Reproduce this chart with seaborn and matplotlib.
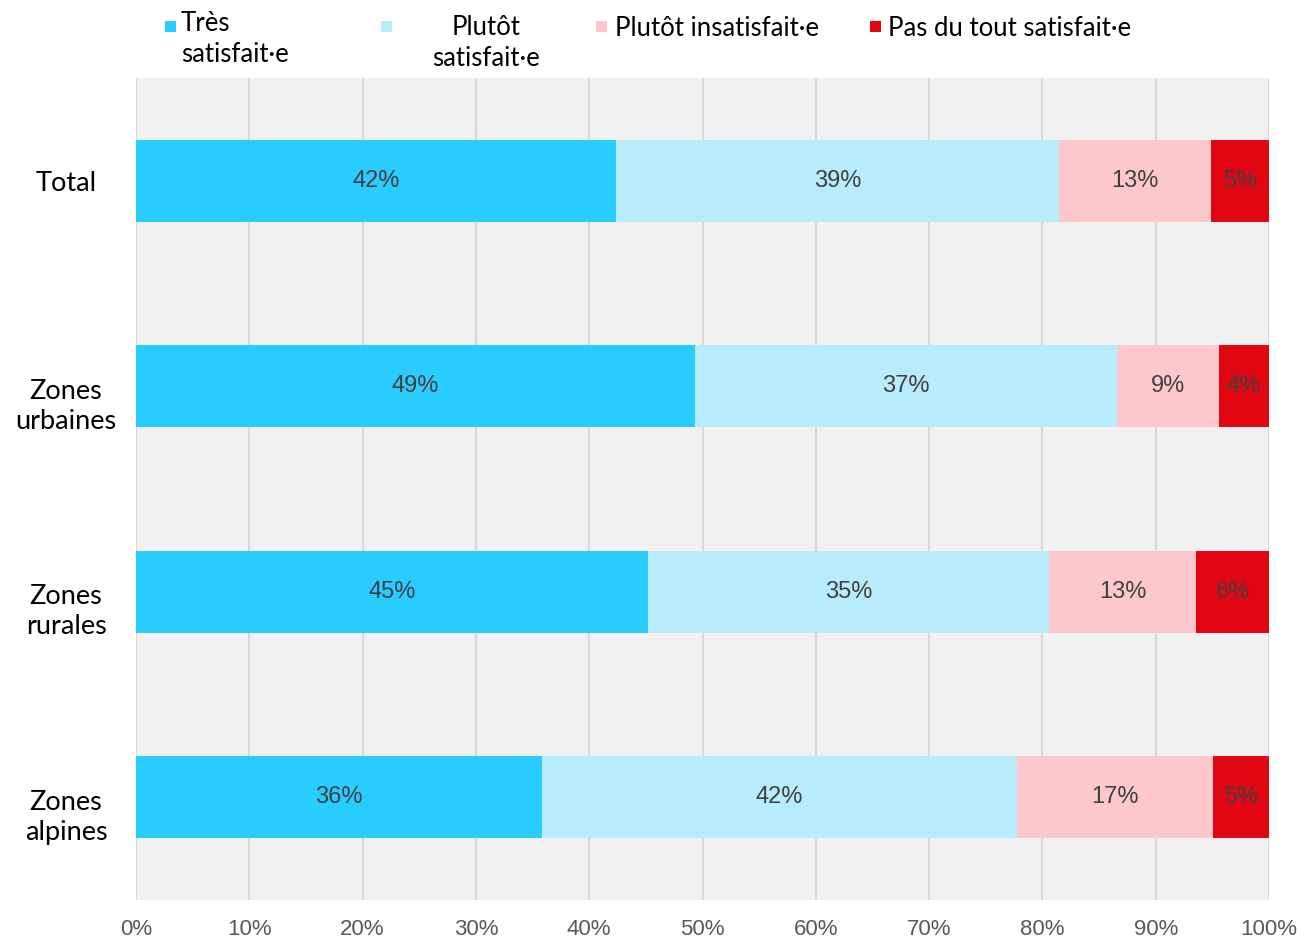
import numpy as np
import pandas as pd
import matplotlib
matplotlib.use("Agg")
import matplotlib.pyplot as plt
import matplotlib.transforms as mtransforms
import seaborn as sns
from matplotlib.patches import Rectangle
from matplotlib.ticker import FuncFormatter

categories = ["Total", "Zones\nurbaines", "Zones\nrurales", "Zones\nalpines"]
tres_satisfait = [42.4, 49.3, 45.2, 35.8]
plutot_satisfait = [39.1, 37.3, 35.4, 42.0]
plutot_insatisfait = [13.4, 9.0, 13.0, 17.3]
pas_satisfait = [5.1, 4.4, 6.4, 4.9]

series_names = ["Très\nsatisfait·e", "Plutôt\nsatisfait·e",
                "Plutôt insatisfait·e", "Pas du tout satisfait·e"]
colors = ["#29CCFF", "#B8ECFD", "#FCC8CC", "#E20613"]
x_ticks = [0, 10, 20, 30, 40, 50, 60, 70, 80, 90, 100]

W, H = 1304, 939
sns.set_theme(style="white")
plt.rcParams["font.family"] = ["Lato", "DejaVu Sans"]

fig = plt.figure(figsize=(W / 100, H / 100), dpi=100)
ax = fig.add_axes([136 / W, 1 - 900 / H, 1133 / W, 822 / H])
ax.set_facecolor("#F1F1F1")

df = pd.DataFrame({"cat": categories, "v0": tres_satisfait, "v1": plutot_satisfait,
                   "v2": plutot_insatisfait, "v3": pas_satisfait})
left = np.zeros(len(categories))
for i, col in enumerate(["v0", "v1", "v2", "v3"]):
    sns.barplot(data=df, x=col, y="cat", orient="h", color=colors[i],
                width=0.4, left=left, saturation=1, linewidth=0,
                edgecolor="none", ax=ax, zorder=3)
    left = left + df[col].values
    ax.bar_label(ax.containers[-1], labels=[f"{v:.0f}%" for v in df[col]],
                 label_type="center", color="#404040", fontsize=17,
                 family="Liberation Sans", zorder=4)

ax.set_xlim(0, 100)
ax.set_xticks(x_ticks)
ax.xaxis.set_major_formatter(FuncFormatter(lambda v, p: f"{v:.0f}%"))
ax.grid(axis="x", color="#D9D9D9", linewidth=1.5, zorder=0)
ax.set_axisbelow(True)
for s in ax.spines.values():
    s.set_visible(False)
ax.set_xlabel("")
ax.set_ylabel("")
ax.tick_params(axis="x", length=0, pad=14, labelsize=16, labelcolor="#595959")
ax.tick_params(axis="y", length=0)
for lbl in ax.get_xticklabels():
    lbl.set_family("Liberation Sans")

# category labels: centred at ~70px left of the axes, first line level with the bar
ax.set_yticklabels([])
for pos, cat in enumerate(categories):
    n_extra = cat.count("\n")
    tr = mtransforms.offset_copy(ax.get_yaxis_transform(), fig=fig,
                                 x=-70, y=-15 * n_extra, units="dots")
    ax.text(0, pos, cat, transform=tr, ha="center", va="center_baseline",
            multialignment="center", fontsize=19.5, linespacing=1.25,
            color="black")

# legend across the top: small square + label
marker_x = [165, 381, 596, 870]
text_x = [181, 486, 615, 888]
text_ha = ["left", "center", "left", "left"]
last_baseline = [62, 66, 36, 36]
for name, c, mx, tx, ha, by in zip(series_names, colors, marker_x, text_x,
                                   text_ha, last_baseline):
    fig.patches.append(Rectangle((mx / W, 1 - 32 / H), 11 / W, 11 / H,
                                 transform=fig.transFigure, facecolor=c,
                                 edgecolor="none"))
    fig.text(tx / W, 1 - by / H, name, ha=ha, va="baseline",
             multialignment="center" if ha == "center" else "left",
             fontsize=18.5, color="black", linespacing=1.3)

fig.savefig("out.png", dpi=100)
